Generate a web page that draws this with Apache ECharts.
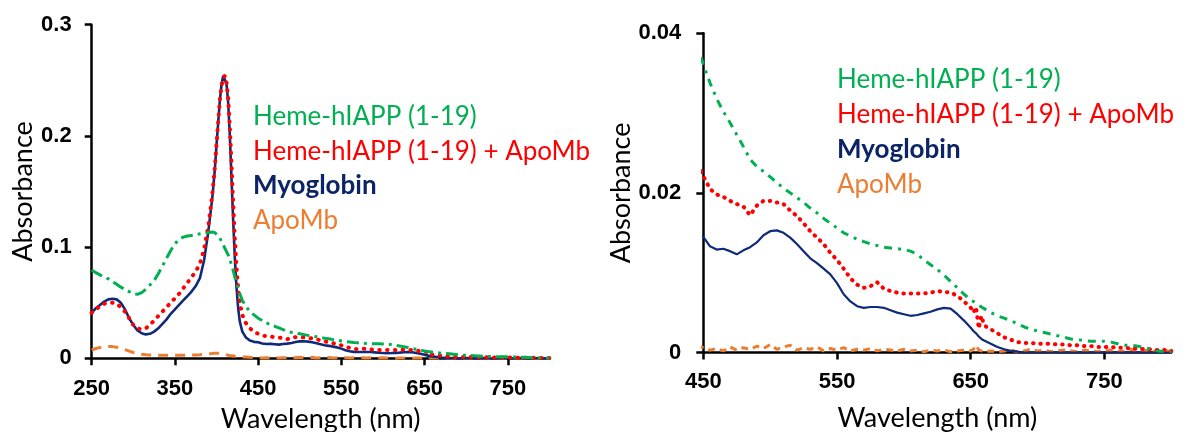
<!DOCTYPE html>
<html>
<head>
<meta charset="utf-8">
<script src="https://cdn.jsdelivr.net/npm/echarts@6/dist/echarts.min.js"></script>
<style>
  html, body { margin: 0; padding: 0; background: #fff; }
  #chart { width: 1192px; height: 432px; }
</style>
</head>
<body>
<div id="chart"></div>
<script>
// Wavelength grid (nm) shared by all spectra
const wavelength = [
  250,255,260,265,270,275,280,285,290,295,
  300,305,310,315,320,325,330,335,340,345,
  350,355,360,365,370,375,380,385,390,395,
  398,400,402,404,406,408,410,412,414,416,
  418,420,422,424,426,428,431,435,440,445,
  450,455,460,465,470,475,480,485,490,495,
  500,505,510,515,520,525,530,535,540,545,
  550,555,560,565,570,575,580,585,590,595,
  600,605,610,615,620,625,630,635,640,645,
  650,652,654,656,658,660,665,670,675,680,
  685,690,695,700,705,710,715,720,725,730,
  735,740,745,750,755,760,765,770,775,780,
  785,790,795,800
];

// Absorbance spectra
const hemeIapp = [
  0.0795,0.077,0.075,0.073,0.0715,0.069,0.0665,0.064,0.062,0.060,
  0.058,0.0575,0.059,0.062,0.066,0.070,0.076,0.083,0.090,0.097,
  0.103,0.107,0.109,0.110,0.1105,0.111,0.112,0.1125,0.113,0.1135,
  0.113,0.112,0.110,0.108,0.105,0.102,0.099,0.096,0.093,0.089,
  0.084,0.079,0.073,0.068,0.063,0.058,0.052,0.047,0.042,0.039,
  0.0361,0.0338,0.0318,0.0302,0.0288,0.0273,0.0258,0.0242,0.0233,0.0227,
  0.0220,0.0213,0.0206,0.0200,0.0194,0.0188,0.0181,0.0175,0.0168,0.0162,
  0.0156,0.0150,0.0146,0.0142,0.0139,0.0136,0.0134,0.0132,0.0131,0.0130,
  0.0129,0.0127,0.0123,0.0116,0.0110,0.0104,0.0097,0.0089,0.0081,0.0073,
  0.0066,0.0064,0.0061,0.0059,0.0057,0.0055,0.0050,0.0046,0.0043,0.0040,
  0.0036,0.0032,0.0029,0.0027,0.0025,0.0023,0.0021,0.0019,0.0017,0.0016,
  0.0015,0.0014,0.0014,0.0014,0.0013,0.0011,0.0009,0.0009,0.0008,0.0006,
  0.0004,0.0002,0.0001,0.0001
];

const hemeIappApoMb = [
  0.041,0.044,0.047,0.049,0.050,0.050,0.049,0.046,0.042,0.036,
  0.030,0.027,0.026,0.027,0.030,0.034,0.038,0.042,0.046,0.050,
  0.054,0.058,0.063,0.068,0.073,0.078,0.085,0.098,0.118,0.148,
  0.172,0.193,0.213,0.232,0.245,0.252,0.254,0.248,0.234,0.208,
  0.175,0.140,0.108,0.082,0.063,0.050,0.039,0.032,0.027,0.024,
  0.0221,0.0205,0.0198,0.0195,0.0190,0.0186,0.0183,0.0172,0.0184,0.0190,
  0.0190,0.0188,0.0186,0.0178,0.0171,0.0162,0.0152,0.0144,0.0136,0.0125,
  0.0116,0.0105,0.0093,0.0085,0.0081,0.0083,0.0088,0.0080,0.0077,0.0075,
  0.0074,0.0074,0.0074,0.0074,0.0075,0.0077,0.0076,0.0075,0.0071,0.0064,
  0.0056,0.0050,0.0057,0.0030,0.0046,0.0034,0.0029,0.0024,0.0019,0.0016,
  0.0013,0.0012,0.0012,0.0011,0.0011,0.0011,0.0010,0.0010,0.0009,0.0009,
  0.0008,0.0008,0.0007,0.0007,0.0007,0.0006,0.0006,0.0005,0.0005,0.0004,
  0.0004,0.0003,0.0003,0.0002
];

const myoglobin = [
  0.041,0.045,0.048,0.051,0.053,0.0535,0.053,0.050,0.044,0.036,
  0.030,0.025,0.0225,0.0215,0.022,0.024,0.027,0.031,0.035,0.040,
  0.044,0.048,0.052,0.056,0.060,0.065,0.072,0.088,0.113,0.145,
  0.170,0.192,0.212,0.232,0.246,0.254,0.255,0.247,0.230,0.200,
  0.162,0.124,0.090,0.064,0.045,0.033,0.024,0.019,0.016,0.0148,
  0.0145,0.0133,0.0129,0.0130,0.0127,0.0123,0.0128,0.0132,0.0138,0.0147,
  0.0152,0.0153,0.0150,0.0144,0.0136,0.0127,0.0118,0.0112,0.0105,0.0098,
  0.0087,0.0073,0.0064,0.0058,0.0056,0.0057,0.0057,0.0056,0.0053,0.0050,
  0.0048,0.0046,0.0047,0.0049,0.0051,0.0054,0.0056,0.0055,0.0048,0.0040,
  0.0031,0.0027,0.0024,0.0020,0.0017,0.0015,0.0011,0.0007,0.0004,0.0002,
  0.0001,0,0,0,0,0,0,0,0,0,
  0,0,0,0,0,0,0,0,0,0,
  0,0,0,0
];

const apoMb = [
  0.0075,0.0088,0.0098,0.0104,0.0106,0.0105,0.0100,0.0090,0.0078,0.0064,
  0.0052,0.0042,0.0036,0.0032,0.0030,0.0029,0.0028,0.0028,0.0027,0.0027,
  0.0027,0.0027,0.0028,0.0028,0.0029,0.0030,0.0032,0.0035,0.0039,0.0043,
  0.0045,0.0046,0.0046,0.0045,0.0043,0.0040,0.0036,0.0032,0.0028,0.0025,
  0.0022,0.0020,0.0018,0.0016,0.0015,0.0014,0.0012,0.0011,0.0009,0.0008,
  0.0006,0.0003,0.0005,0.0002,0.0007,0.0003,0.0006,0.0004,0.0008,0.0005,
  0.0010,0.0004,0.0007,0.0009,0.0003,0.0006,0.0004,0.0007,0.0002,0.0005,
  0.0003,0.0006,0.0002,0.0004,0.0003,0.0005,0.0002,0.0004,0.0003,0.0002,
  0.0004,0.0002,0.0003,0.0001,0.0003,0.0002,0.0003,0.0001,0.0002,0.0003,
  0.0002,0.0004,0.0009,0.0003,0.0002,0.0001,0.0002,0.0001,0.0002,0.0003,
  0.0001,0.0002,0.0004,0.0002,0.0003,0.0001,0.0002,0.0003,0.0002,0.0001,
  0.0003,0.0002,0.0001,0.0002,0.0003,0.0001,0.0002,0.0004,0.0002,0.0003,
  0.0001,0.0002,0.0003,0.0001
];

const seriesNames = ['Heme-hIAPP (1-19)', 'Heme-hIAPP (1-19) + ApoMb', 'Myoglobin', 'ApoMb'];
const fullRangeTicks = [250, 350, 450, 550, 650, 750];
const visibleRangeTicks = [450, 550, 650, 750];

const COLORS = {
  green: '#00B050',
  red: '#FF0000',
  navy: '#0E2A78',
  orange: '#ED7D31'
};
const legendColors = [COLORS.green, COLORS.red, '#0B2466', COLORS.orange];

const pairs = values => wavelength.map((w, i) => [w, values[i]]);

const tickFont = { fontFamily: 'Liberation Sans, Arial, sans-serif', fontWeight: 'bold', fontSize: 22, color: '#000' };
const titleFont = { fontFamily: 'Lato, sans-serif', fontSize: 27, color: '#000' };
const axisLine = { show: true, lineStyle: { color: '#000', width: 2.5 } };

function xAxis(gridIndex, min, ticks, nameGap, labelMargin) {
  return {
    type: 'value', gridIndex, min, max: 800,
    name: 'Wavelength (nm)', nameLocation: 'middle', nameGap,
    nameTextStyle: titleFont,
    axisLine,
    axisTick: { show: true, inside: false, length: 7, lineStyle: { color: '#000', width: 2.5 }, customValues: ticks },
    axisLabel: { ...tickFont, margin: labelMargin, customValues: ticks },
    splitLine: { show: false }
  };
}

function yAxis(gridIndex, max, interval, nameGap, labelMargin) {
  return {
    type: 'value', gridIndex, min: 0, max, interval,
    name: 'Absorbance', nameLocation: 'middle', nameGap, nameRotate: 90,
    nameTextStyle: titleFont,
    axisLine,
    axisTick: { show: true, inside: false, length: 7, lineStyle: { color: '#000', width: 2.5 } },
    axisLabel: { ...tickFont, margin: labelMargin, formatter: v => (v === 0 ? '0' : String(+v.toFixed(3))) },
    splitLine: { show: false }
  };
}

function panelSeries(idx, styles) {
  const base = { type: 'line', xAxisIndex: idx, yAxisIndex: idx, showSymbol: false, symbol: 'none', clip: true, animation: false, silent: true };
  return [
    { ...base, name: seriesNames[3], data: pairs(apoMb), z: 2,
      lineStyle: { color: COLORS.orange, width: 3, type: styles.orangeDash } },
    { ...base, name: seriesNames[2], data: pairs(myoglobin), z: 3,
      lineStyle: { color: COLORS.navy, width: styles.navyWidth, type: 'solid' } },
    { ...base, name: seriesNames[1], data: pairs(hemeIappApoMb), z: 4,
      lineStyle: { color: COLORS.red, width: 4, type: styles.redDots, cap: 'round' } },
    { ...base, name: seriesNames[0], data: pairs(hemeIapp), z: 5,
      lineStyle: { color: COLORS.green, width: 3, type: styles.greenDashDot } }
  ];
}

function legend(left, top, gap) {
  return {
    orient: 'vertical', left, top, padding: 0,
    itemWidth: 0, itemHeight: 0, itemGap: 0,
    selectedMode: false,
    textStyle: { fontFamily: 'Lato, sans-serif', fontSize: 26, lineHeight: gap },
    data: seriesNames.map((n, i) => ({
      name: n, icon: 'rect',
      textStyle: { color: legendColors[i], fontWeight: i === 2 ? 'bold' : 'normal' }
    }))
  };
}

const chart = echarts.init(document.getElementById('chart'), null, { renderer: 'canvas' });
chart.setOption({
  backgroundColor: '#fff',
  animation: false,
  grid: [
    { left: 91.7, top: 24.7, width: 457.7, height: 333.6, containLabel: false, outerBoundsMode: 'none' },
    { left: 703.3, top: 33.3, width: 468, height: 319.2, containLabel: false, outerBoundsMode: 'none' }
  ],
  xAxis: [
    xAxis(0, 250, fullRangeTicks, 47, 20),
    xAxis(1, 450, visibleRangeTicks, 52, 18)
  ],
  yAxis: [
    yAxis(0, 0.3, 0.1, 53, 20),
    yAxis(1, 0.04, 0.02, 65, 22)
  ],
  legend: [
    legend(248, 99, 34.8),
    legend(832, 62, 35)
  ],
  series: [
    ...panelSeries(0, { orangeDash: [10, 7], navyWidth: 2.6, redDots: [0.5, 7.3], greenDashDot: [12, 5, 3, 5] }),
    ...panelSeries(1, { orangeDash: [7, 5], navyWidth: 2.2, redDots: [0.5, 6.8], greenDashDot: [8, 6, 3, 6] })
  ]
});
</script>
</body>
</html>
